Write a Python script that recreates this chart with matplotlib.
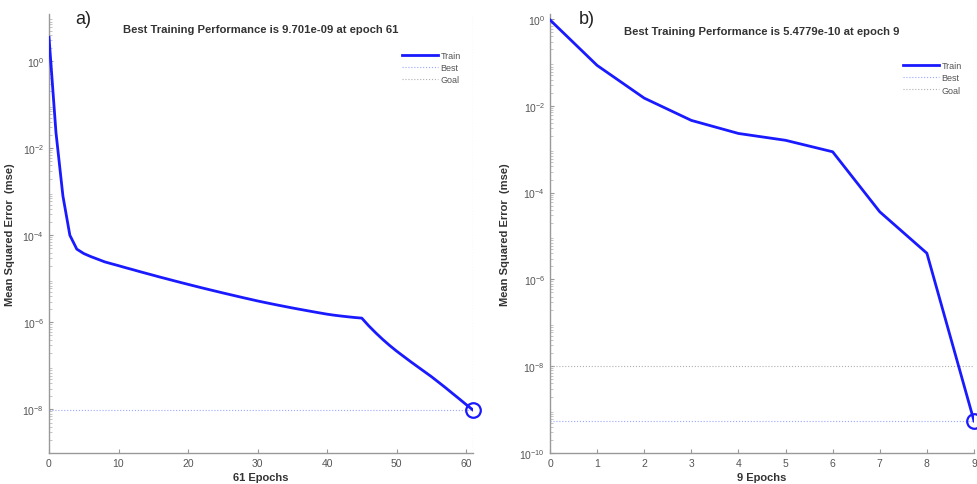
import matplotlib
matplotlib.use("Agg")
import matplotlib.pyplot as plt
import numpy as np
from matplotlib.ticker import LogLocator, FixedLocator, NullFormatter

# ---------------- data ----------------
epochs_a = list(range(0, 62))
mse_a = [3.5, 2.3e-2, 8e-4, 1e-4, 4.79e-5, 3.80e-5, 3.24e-5, 2.82e-5, 2.45e-5, 2.21e-5,
         2.00e-5, 1.80e-5, 1.63e-5, 1.47e-5, 1.33e-5, 1.205e-5, 1.09e-5, 9.91e-6, 9.00e-6, 8.18e-6,
         7.45e-6, 6.79e-6, 6.19e-6, 5.66e-6, 5.18e-6, 4.74e-6, 4.35e-6, 3.99e-6, 3.66e-6, 3.37e-6,
         3.10e-6, 2.87e-6, 2.66e-6, 2.47e-6, 2.30e-6, 2.14e-6, 2.00e-6, 1.87e-6, 1.75e-6, 1.64e-6,
         1.54e-6, 1.46e-6, 1.396e-6, 1.34e-6, 1.29e-6, 1.25e-6, 8.32e-7, 5.75e-7, 4.07e-7, 2.95e-7,
         2.19e-7, 1.66e-7, 1.26e-7, 9.66e-8, 7.41e-8, 5.69e-8, 4.27e-8, 3.20e-8, 2.37e-8, 1.76e-8,
         1.30e-8, 9.701e-9]
best_a = 9.701e-9
best_epoch_a = 61

epochs_b = list(range(0, 10))
mse_b = [0.95, 8.5e-2, 1.5e-2, 4.6e-3, 2.3e-3, 1.6e-3, 8.7e-4, 3.6e-5, 4.0e-6, 5.4779e-10]
best_b = 5.4779e-10
best_epoch_b = 9
goal_b = 1e-8

title_a = "Best Training Performance is 9.701e-09 at epoch 61"
title_b = "Best Training Performance is 5.4779e-10 at epoch 9"
xlabel_a = "61 Epochs"
xlabel_b = "9 Epochs"
ylabel = "Mean Squared Error  (mse)"

# ---------------- figure ----------------
plt.rcParams['font.family'] = ['Liberation Sans', 'DejaVu Sans']
fig = plt.figure(figsize=(9.77, 4.85), dpi=100)

W, H = 977, 485
def rect(l, t, r, b):
    return [l / W, 1 - b / H, (r - l) / W, (b - t) / H]

ax_a = fig.add_axes(rect(49, 15, 473, 454))
ax_b = fig.add_axes(rect(550, 15, 974, 454))

train_color = '#1a1aff'
best_color = '#9aa8ff'
goal_color = '#b0b0b0'
tick_color = '#555555'
spine_color = '#999999'
text_color = '#333333'

def style(ax):
    ax.set_yscale('log')
    for s in ['top', 'right']:
        ax.spines[s].set_visible(False)
    for s in ['left', 'bottom']:
        ax.spines[s].set_color(spine_color)
        ax.spines[s].set_linewidth(1.0)
    ax.tick_params(axis='both', direction='in', colors=spine_color, labelcolor=tick_color,
                   labelsize=7.5, length=3)
    ax.tick_params(axis='y', which='minor', direction='in', length=2, colors='#bbbbbb')
    ax.yaxis.set_minor_formatter(NullFormatter())

# ---- panel a ----
style(ax_a)
ax_a.plot(epochs_a, mse_a, color=train_color, lw=2, label='Train', zorder=3)
ax_a.axhline(best_a, color=best_color, lw=0.8, ls=':', label='Best', zorder=2)
ax_a.axvline(best_epoch_a, color=best_color, lw=0.8, ls=':', zorder=2)
ax_a.plot([], [], color=goal_color, lw=0.8, ls=':', label='Goal')
ax_a.plot([best_epoch_a], [best_a], 'o', ms=10.5, mfc='none', mec=train_color, mew=1.6,
          zorder=4, clip_on=False)
ax_a.set_xlim(0, 61)
ax_a.set_ylim(1e-9, 12)
ax_a.set_xticks([0, 10, 20, 30, 40, 50, 60])
ax_a.yaxis.set_major_locator(FixedLocator([1e-8, 1e-6, 1e-4, 1e-2, 1e0]))
ax_a.yaxis.set_minor_locator(LogLocator(base=10, subs=np.arange(2, 10), numticks=30))
fig.text(261 / W, 1 - 30 / H, title_a, fontsize=8.15, fontweight='bold', color=text_color,
         ha='center', va='center')
ax_a.set_xlabel(xlabel_a, fontsize=8, fontweight='bold', color=text_color, labelpad=3)
ax_a.set_ylabel(ylabel, fontsize=8, fontweight='bold', color=text_color)
ax_a.yaxis.set_label_coords((15 - 49) / 424, (454 - 235) / 439)
leg = ax_a.legend(loc='upper right', bbox_to_anchor=(0.99, 0.934), fontsize=6.5, frameon=False,
                  handlelength=4, labelspacing=0.35, handletextpad=0.3)
for t in leg.get_texts():
    t.set_color('#555555')
fig.text(83 / W, 1 - 20 / H, 'a)', fontsize=13, color='#222222', ha='center', va='center')

# ---- panel b ----
style(ax_b)
ax_b.plot(epochs_b, mse_b, color=train_color, lw=2, label='Train', zorder=3)
ax_b.axhline(best_b, color=best_color, lw=0.8, ls=':', label='Best', zorder=2)
ax_b.axvline(best_epoch_b, color=best_color, lw=0.8, ls=':', zorder=2)
ax_b.axhline(goal_b, color=goal_color, lw=0.8, ls=':', label='Goal', zorder=2)
ax_b.plot([best_epoch_b], [best_b], 'o', ms=10.5, mfc='none', mec=train_color, mew=1.6,
          zorder=4, clip_on=False)
ax_b.set_xlim(0, 9)
ax_b.set_ylim(1e-10, 1.3)
ax_b.set_xticks(range(0, 10))
ax_b.yaxis.set_major_locator(FixedLocator([1e-10, 1e-8, 1e-6, 1e-4, 1e-2, 1e0]))
ax_b.yaxis.set_minor_locator(LogLocator(base=10, subs=np.arange(2, 10), numticks=30))
fig.text(762 / W, 1 - 32 / H, title_b, fontsize=8.15, fontweight='bold', color=text_color,
         ha='center', va='center')
ax_b.set_xlabel(xlabel_b, fontsize=8, fontweight='bold', color=text_color, labelpad=3)
ax_b.set_ylabel(ylabel, fontsize=8, fontweight='bold', color=text_color)
ax_b.yaxis.set_label_coords((510 - 550) / 424, (454 - 235) / 439)
leg = ax_b.legend(loc='upper right', bbox_to_anchor=(0.99, 0.911), fontsize=6.5, frameon=False,
                  handlelength=4, labelspacing=0.35, handletextpad=0.3)
for t in leg.get_texts():
    t.set_color('#555555')
fig.text(587 / W, 1 - 20 / H, 'b)', fontsize=13, color='#222222', ha='center', va='center')

fig.savefig('out.png', dpi=100)
